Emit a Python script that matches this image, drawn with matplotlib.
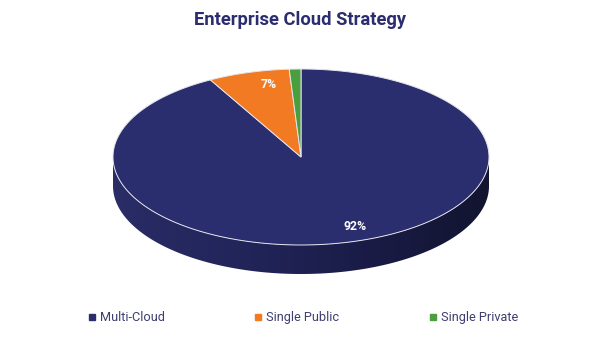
import numpy as np
import matplotlib
matplotlib.use("Agg")
import matplotlib.pyplot as plt
from matplotlib.patches import Polygon
from matplotlib.colors import LinearSegmentedColormap

# data
labels = ["Multi-Cloud", "Single Public", "Single Private"]
values = [92, 7, 1]
pct_labels = ["92%", "7%", ""]
colors = ["#2b2e6e", "#f27a22", "#4b9e3e"]

# layout (pixel coords)
W, H = 600, 346
cx, cy = 301, 157
a, b = 188, 88
depth = 29
pct_pos = [(355, 227), (269, 85), None]
legend_x = [88, 254, 429]
legend_y = 317

fig = plt.figure(figsize=(W / 100, H / 100), dpi=100)
ax = fig.add_axes([0, 0, 1, 1])
ax.set_xlim(0, W)
ax.set_ylim(H, 0)
ax.axis("off")


def ell(theta, dy=0):
    return cx + a * np.cos(theta), cy - b * np.sin(theta) + dy


# wedge angles: clockwise from 12 o'clock
total = sum(values)
starts, ends = [], []
ang = 90.0
for v in values:
    starts.append(ang)
    ang -= 360.0 * v / total
    ends.append(ang)

# side wall (front half), shaded left -> right
side_cmap = LinearSegmentedColormap.from_list(
    "side", ["#2a2d66", "#22255a", "#1a1c47", "#121430"])
ts = np.linspace(np.pi, 2 * np.pi, 400)
xt, yt = ell(ts)
xb, yb = ell(ts[::-1], depth)
side = Polygon(list(zip(xt, yt)) + list(zip(xb, yb)), closed=True,
               fc="none", ec="none", zorder=1)
ax.add_patch(side)
grad = np.linspace(0, 1, 256).reshape(1, -1)
im = ax.imshow(grad, cmap=side_cmap, aspect="auto",
               extent=(cx - a, cx + a, cy + b + depth, cy - 2), zorder=1)
im.set_clip_path(side)

# top face
for s, e, col in zip(starts, ends, colors):
    tt = np.radians(np.linspace(s, e, 300))
    xs, ys = ell(tt)
    pts = [(cx, cy)] + list(zip(xs, ys))
    ax.add_patch(Polygon(pts, closed=True, fc=col, ec="#e4e4ec", lw=0.7, zorder=3))

# percent labels
for pos, lab in zip(pct_pos, pct_labels):
    if not lab:
        continue
    ax.text(pos[0], pos[1], lab, color="white", fontsize=8.8, fontweight="bold",
            family="Roboto", ha="center", va="center", zorder=5)

# title
ax.text(W / 2, 20, "Enterprise Cloud Strategy", color="#2b2d6e", fontsize=13.2,
        fontweight="bold", family="Roboto", ha="center", va="center")

# legend
for x, lab, col in zip(legend_x, labels, colors):
    ax.plot(x + 4, legend_y, marker="s", ms=4.5, color=col, mec=col, ls="none")
    ax.text(x + 12, legend_y + 4, lab, color="#3d3f6e", fontsize=9.2, family="Roboto",
            ha="left", va="baseline")

fig.savefig("out.png", dpi=100, facecolor="white")
